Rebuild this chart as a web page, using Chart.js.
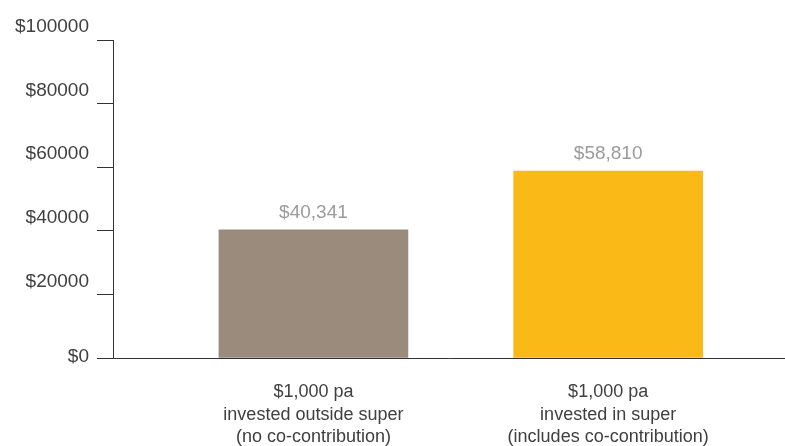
<!DOCTYPE html>
<html>
<head>
<meta charset="utf-8">
<script src="https://cdn.jsdelivr.net/npm/chart.js@4"></script>
<style>
  html, body { margin: 0; padding: 0; background: #ffffff; }
  #wrap { width: 785px; height: 446px; }
</style>
</head>
<body>
<div id="wrap"><canvas id="c" width="785" height="446"></canvas></div>
<script>
// ---- data ----
const categories = [
  ["$1,000 pa", "invested outside super", "(no co-contribution)"],
  ["$1,000 pa", "invested in super", "(includes co-contribution)"]
];
const values = [40341, 58810];
const barColors = ["#9a8b7d", "#fbb918"];
const yTickValues = [0, 20000, 40000, 60000, 80000, 100000];

const FONT = "'Liberation Sans', Arial, Helvetica, sans-serif";

const valueLabels = {
  id: 'valueLabels',
  afterDatasetsDraw(chart) {
    const ctx = chart.ctx;
    const meta = chart.getDatasetMeta(0);
    ctx.save();
    ctx.font = "19px " + FONT;
    ctx.fillStyle = "#9b9b9b";
    ctx.textAlign = "center";
    ctx.textBaseline = "alphabetic";
    meta.data.forEach((bar, i) => {
      ctx.fillText("$" + values[i].toLocaleString("en-US"), bar.x, bar.y - 12);
    });
    ctx.restore();
  }
};

new Chart(document.getElementById('c'), {
  type: 'bar',
  data: {
    datasets: [{
      data: values.map((v, i) => ({ x: i + 1, y: v })),
      backgroundColor: barColors,
      borderWidth: 0,
      barThickness: 189
    }]
  },
  options: {
    responsive: false,
    animation: false,
    devicePixelRatio: 1,
    layout: { padding: { top: 40, right: 0, bottom: 0, left: 0 } },
    plugins: { legend: { display: false }, tooltip: { enabled: false } },
    scales: {
      x: {
        type: 'linear',
        offset: false,
        min: 0.32,
        max: 2.6,
        afterBuildTicks(scale) {
          scale.ticks = categories.map((c, i) => ({ value: i + 1 }));
        },
        afterFit(scale) { scale.height = 88; },
        grid: { display: false, drawTicks: false, drawOnChartArea: false },
        border: { display: true, color: '#333333', width: 1 },
        ticks: {
          autoSkip: false,
          maxRotation: 0,
          minRotation: 0,
          padding: 23,
          color: '#404040',
          font: { family: FONT, size: 18, lineHeight: 1.25 },
          callback(v) { return categories[v - 1] || ''; }
        }
      },
      y: {
        min: 0,
        max: 100000,
        afterBuildTicks(scale) {
          scale.ticks = yTickValues.map(v => ({ value: v }));
        },
        afterFit(scale) { scale.width = 113; },
        grid: { display: true, drawOnChartArea: false, drawTicks: true, tickLength: 16, color: '#333333', lineWidth: 1 },
        border: { display: true, color: '#333333', width: 1 },
        ticks: {
          padding: 8,
          labelOffset: -13,
          color: '#404040',
          font: { family: FONT, size: 19, lineHeight: 1.2 },
          callback(v) { return v === 0 ? ["", "$" + v] : "$" + v; }
        }
      }
    }
  },
  plugins: [valueLabels]
});
</script>
</body>
</html>
